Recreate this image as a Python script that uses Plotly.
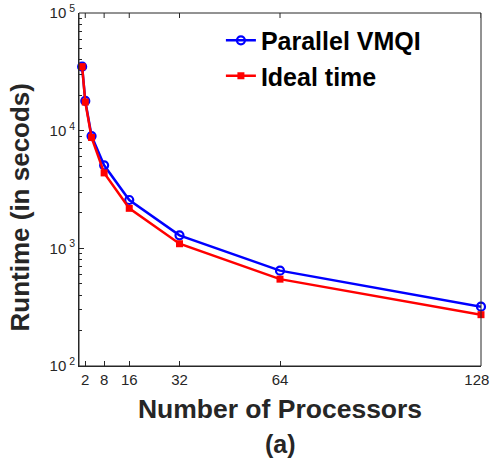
import math
import plotly.graph_objects as go

processors = [1, 2, 4, 8, 16, 32, 64, 128]
parallel_vmqi = [35000, 17900, 9000, 5080, 2575, 1290, 646, 319]
ideal_time = [35000, 17500, 8750, 4375, 2188, 1094, 547, 273]
x_ticks = [2, 8, 16, 32, 64, 128]
x_ticktext = ["2", "8", "16", "32", "64", "128\u00a0\u00a0"]
y_tickvals = [100, 1000, 10000, 100000]
y_ticktext = ["10<sup> 2</sup>", "10<sup> 3</sup>", "10<sup> 4</sup>", "10<sup> 5</sup>"]
y_minor = [m * 10 ** e for e in (2, 3, 4) for m in range(2, 10)]

FONT = "Liberation Sans, Arial, Helvetica, sans-serif"
AX = "#262626"
PLOT_W, PLOT_H = 402, 353

fig = go.Figure()
fig.add_trace(go.Scatter(
    x=processors, y=parallel_vmqi, mode="lines+markers", name="<b>Parallel VMQI</b>",
    legendgroup="a", cliponaxis=False,
    line=dict(color="#0000ff", width=2.5),
    marker=dict(symbol="circle-open", size=8, color="#0000ff", line=dict(width=2.2)),
))
fig.add_trace(go.Scatter(
    x=processors, y=ideal_time, mode="lines+markers", name="<b>Ideal time</b>",
    legendgroup="b", cliponaxis=False,
    line=dict(color="#ff0000", width=2.5),
    marker=dict(symbol="square", size=7, color="#ff0000"),
))

# frame and mirrored ticks (top and right) drawn as shapes
shapes = [dict(type="rect", xref="paper", yref="paper", x0=0, x1=1, y0=0, y1=1,
               line=dict(color=AX, width=1), layer="above")]
for t in x_ticks:
    shapes.append(dict(type="line", xref="x", yref="paper", x0=t, x1=t, y0=1, y1=1 - 5 / PLOT_H,
                       line=dict(color=AX, width=1)))
for t in y_tickvals:
    shapes.append(dict(type="line", xref="paper", yref="y", x0=1, x1=1 - 5 / PLOT_W,
                       y0=math.log10(t), y1=math.log10(t), line=dict(color=AX, width=1)))
for t in y_minor:
    shapes.append(dict(type="line", xref="paper", yref="y", x0=1, x1=1 - 3 / PLOT_W,
                       y0=math.log10(t), y1=math.log10(t), line=dict(color=AX, width=1)))

fig.update_layout(
    template="none",
    width=491, height=461,
    margin=dict(l=79, r=10, t=13, b=95, autoexpand=False),
    plot_bgcolor="white", paper_bgcolor="white",
    font=dict(family=FONT, color=AX),
    showlegend=True,
    legend=dict(x=0.353, y=0.987, xanchor="left", yanchor="top",
                bgcolor="rgba(0,0,0,0)", font=dict(size=25, color="black", family=FONT),
                traceorder="grouped", tracegroupgap=0),
    xaxis=dict(range=[0, 128], tickvals=x_ticks, ticktext=x_ticktext, ticks="inside", ticklen=5,
               showline=True, tickcolor=AX, linecolor=AX, linewidth=1, showgrid=False,
               zeroline=False, automargin=False, ticklabeloverflow="allow",
               tickfont=dict(size=15, color=AX, family=FONT),
               title=dict(text="<b>Number of Processors</b>", font=dict(size=26.5, color=AX), standoff=12)),
    yaxis=dict(type="log", range=[2, 5], tickvals=y_tickvals, ticktext=y_ticktext,
               ticks="inside", ticklen=5, showline=True, tickcolor=AX, linecolor=AX, linewidth=1,
               showgrid=False, zeroline=False, automargin=False,
               minor=dict(tickvals=y_minor, ticks="inside", ticklen=3, tickcolor=AX, showgrid=False),
               tickfont=dict(size=15, color=AX, family=FONT)),
    shapes=shapes,
    annotations=[
        dict(text="<b>(a)</b>", x=0.5, y=0, xref="paper", yref="paper",
             yshift=-62, yanchor="top", showarrow=False,
             font=dict(size=25, color=AX, family=FONT)),
        dict(text="<b>Runtime (in secods)</b>", x=0, y=0.5, xref="paper", yref="paper",
             xshift=-60, yshift=-18, textangle=-90, xanchor="center", yanchor="middle",
             showarrow=False, font=dict(size=26, color=AX, family=FONT)),
    ],
)
fig.update_xaxes(tickprefix="<b>", ticksuffix="</b>")
fig.update_yaxes(tickprefix="<b>", ticksuffix="</b>")

fig.write_html("out.html", config={"displayModeBar": False},
               post_script="document.body.style.margin='0';document.body.style.overflow='hidden';")
